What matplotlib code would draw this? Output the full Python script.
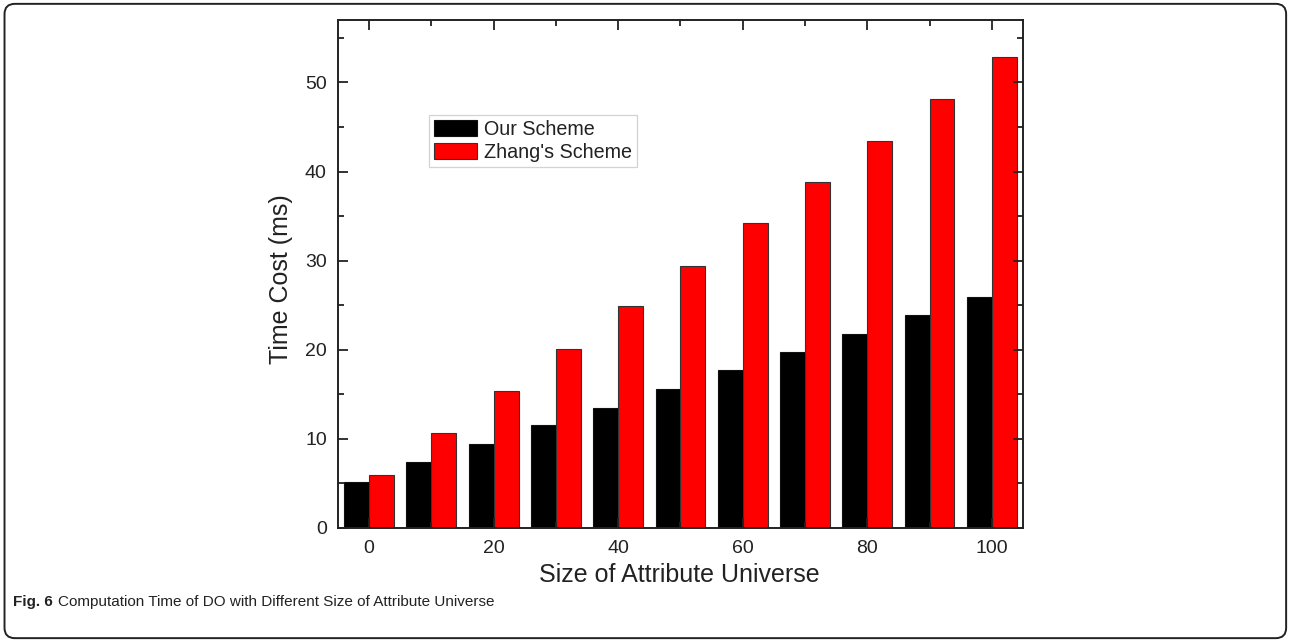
import numpy as np
import matplotlib
matplotlib.use("Agg")
import matplotlib.pyplot as plt
from matplotlib.patches import FancyBboxPatch
from matplotlib.ticker import MultipleLocator

# Size of attribute universe and computation time (ms)
sizes = [0, 10, 20, 30, 40, 50, 60, 70, 80, 90, 100]
our_scheme = [5.2, 7.4, 9.4, 11.5, 13.5, 15.6, 17.7, 19.7, 21.8, 23.9, 25.9]
zhang_scheme = [6.0, 10.7, 15.4, 20.1, 24.9, 29.4, 34.2, 38.8, 43.4, 48.1, 52.8]
series_names = ["Our Scheme", "Zhang's Scheme"]
x_ticks = [0, 20, 40, 60, 80, 100]
y_ticks = [0, 10, 20, 30, 40, 50]

plt.rcParams['font.family'] = ['Liberation Sans', 'DejaVu Sans']
ink = "#222222"

fig = plt.figure(figsize=(12.9, 6.42), dpi=100)

# outer rounded frame
frame = FancyBboxPatch((0.0035, 0.006), 0.9935, 0.988,
                       boxstyle="round,pad=0,rounding_size=0.008",
                       transform=fig.transFigure, fill=False,
                       edgecolor=ink, linewidth=1.4, mutation_aspect=2.0)
fig.patches.append(frame)

ax = fig.add_axes([0.262, 0.1776, 0.531, 0.7912])

x = np.array(sizes, dtype=float)
w = 4.0
ax.bar(x - w / 2, our_scheme, width=w, color="black", edgecolor="#111111",
       linewidth=0.8, label=series_names[0])
ax.bar(x + w / 2, zhang_scheme, width=w, color="#ff0000", edgecolor="#333333",
       linewidth=0.8, label=series_names[1])

ax.set_xlim(-5, 105)
ax.set_ylim(0, 57)
ax.set_xticks(x_ticks)
ax.set_yticks(y_ticks)
ax.xaxis.set_minor_locator(MultipleLocator(10))
ax.yaxis.set_minor_locator(MultipleLocator(5))
ax.tick_params(which="both", direction="in", top=True, right=True,
               width=1.3, colors=ink, labelcolor=ink)
ax.tick_params(which="major", length=7, labelsize=14)
ax.tick_params(axis="x", which="major", pad=9)
ax.tick_params(axis="y", which="major", pad=8)
ax.tick_params(which="minor", length=4)
for s in ax.spines.values():
    s.set_linewidth(1.4)
    s.set_color(ink)

ax.set_ylabel("Time Cost (ms)", fontsize=18, color=ink, va="center")
ax.set_xlabel("Size of Attribute Universe", fontsize=18, color=ink, va="center")
ax.yaxis.set_label_coords(-0.083, 0.49)
ax.xaxis.set_label_coords(0.499, -0.0925)

leg = ax.legend(loc="upper left", bbox_to_anchor=(0.133, 0.813), borderaxespad=0,
                fontsize=14.2, handlelength=2.2, handleheight=0.85,
                handletextpad=0.35, labelspacing=0.2, borderpad=0.25,
                frameon=True, fancybox=False)
leg.get_frame().set_edgecolor("#c8c8c8")
leg.get_frame().set_linewidth(0.9)
for t in leg.get_texts():
    t.set_color(ink)

cap_font = ["Liberation Sans", "DejaVu Sans"]
t1 = fig.text(0.0101, 0.056, "Fig. 6", fontsize=11, fontweight="bold",
              family=cap_font, color=ink, va="baseline")
r = fig.canvas.get_renderer()
bb = t1.get_window_extent(renderer=r)
fig.text((bb.x1 + 5) / fig.bbox.width, 0.056,
         "Computation Time of DO with Different Size of Attribute Universe",
         fontsize=11, family=cap_font, color=ink, va="baseline")

fig.savefig("out.png", dpi=100)
